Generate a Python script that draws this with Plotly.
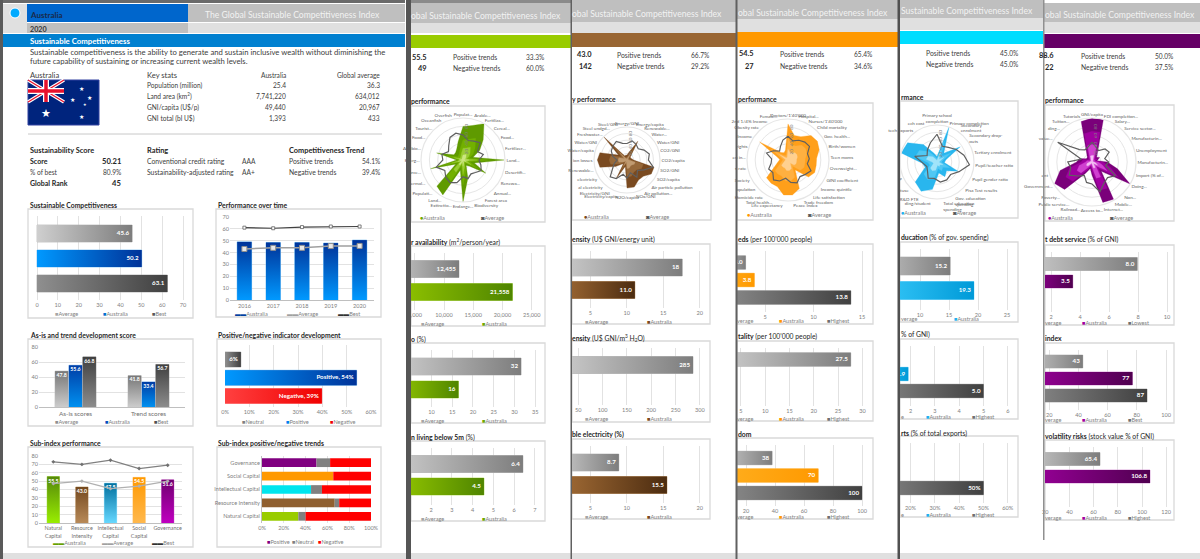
import numpy as np
import plotly.graph_objects as go

W, H = 1200, 559
FONT = "Lato"

# ---------- page 1 data ----------
SC_LABELS = ["45.6", "50.2", "63.1"]
SC_VALUES = [45.6, 50.2, 62.5]
YEARS = ["2016", "2017", "2018", "2019", "2020"]
PERF_AUS = [49, 48.5, 48.5, 48, 50.5]
PERF_AVG = [43, 44, 44, 45.5, 45.6]
PERF_BEST = [61, 60.5, 61.5, 62, 62]
ASIS_CATS = ["As-is scores", "Trend scores"]
ASIS_AVG = [47.8, 41.8]
ASIS_AUS = [55.6, 33.4]
ASIS_BEST = [66.8, 56.7]
POSNEG_VALUES = [6.5, 54.1, 39.8]
POSNEG_LABELS = ["6%", "Positive, 54%", "Negative, 39%"]
SUB_CATS = ["Natural<br>Capital", "Resource<br>Intensity", "Intellectual<br>Capital", "Social<br>Capital", "Governance"]
SUB_AUS = [55.5, 43.0, 47.5, 54.5, 51.6]
SUB_AVG = [47, 50, 41, 44, 50]
SUB_BEST = [73, 70, 75, 65, 69]
TREND_CATS = ["Natural Capital", "Resource Intensity", "Intellectual Capital", "Social Capital", "Governance"]
TREND_POS = [33.3, 66.7, 45.0, 65.4, 50.0]
TREND_NEU = [6.7, 4.1, 10.0, 0.0, 12.5]
TREND_NEG = [60.0, 29.2, 45.0, 34.6, 37.5]

# ---------- small multiple data ----------
WATER_AVAIL = [12560, 21700]
WATER_AVAIL_TXT = ["12,455", "21,558"]
FOREST = [31.6, 16.5]
FOREST_TXT = ["32", "16"]
BELOW5M = [6.43, 4.55]
BELOW5M_TXT = ["6.4", "4.5"]
ENERGY_INT = [17.6, 11.1]
ENERGY_INT_TXT = ["18", "11.0"]
WATER_INT = [286, 20]
WATER_INT_TXT = ["285", ""]
RENEW_EL = [8.9, 15.5]
RENEW_EL_TXT = ["8.7", "15.5"]
BEDS = [3.0, 3.9, 13.85]
BEDS_TXT = ["3.0", "3.8", "13.8"]
MORTALITY = [27.6, 1]
MORTALITY_TXT = ["27.5", ""]
FREEDOM = [38, 69.8, 100]
FREEDOM_TXT = ["38", "70", "100"]
EDU_SPEND = [15.2, 19.3]
EDU_SPEND_TXT = ["15.2", "19.3"]
RND = [0.9, 1.9, 5.0]
RND_TXT = ["", "1.9", "5.0"]
HITECH = [5, 8, 50]
HITECH_TXT = ["", "", "50%"]
DEBT = [7.95, 3.5]
DEBT_TXT = ["8.0", "3.5"]
CORRUPTION = [43, 77, 87]
CORRUPTION_TXT = ["43", "77", "87"]
VOLATILITY = [65.3, 106.6]
VOLATILITY_TXT = ["65.4", "106.8"]

# ---------- radar data (clockwise from the top) ----------
NAT_LABELS = ["Populat...", "Arable...", "Fertiliza...", "Cereal...", "Food...", "Fertilizer...", "Land...",
              "Desertifi...", "Renewa...", "Annual...", "Forest area", "Biodiversity", "Endange...", "Extinctio...",
              "Land...", "Populati...", "thermal...", "ource...", "Energ...", "Antibio...", "Food...", "Tourist...",
              "Oceanfish", "Overfish"]
NAT_AUS = [80, 85, 100, 68, 46, 25, 98, 28, 63, 20, 15, 45, 100, 25, 96, 88, 20, 80, 15, 65, 25, 25, 30, 45]
NAT_AVG = [60, 48, 52, 58, 40, 50, 38, 44, 50, 42, 38, 46, 40, 56, 62, 58, 50, 66, 48, 52, 40, 48, 62, 66]
RES_LABELS = ["Energy/GNI", "Energy/capita", "Renewable...", "Water...", "Water/GNI", "CO2/GNI", "CO2/capita",
              "SO2/GNI", "SO2/capita", "Air particle pollution", "Air pollution...", "NOx/GNI", "N2O/capita",
              "Electricity/capita", "Electricity/GNI", "al electricity", "electricity", "Renewable...", "ion losses",
              "Water/capita", "Water/GNI", "Freshwater...", "Steel undgd...", "Steel/GNI"]
RES_AUS = [15, 25, 66, 15, 12, 15, 20, 85, 85, 70, 70, 85, 85, 20, 66, 15, 40, 85, 90, 85, 30, 100, 15, 15]
RES_AVG = [50, 60, 55, 48, 60, 70, 65, 82, 60, 45, 60, 40, 55, 45, 65, 72, 50, 40, 30, 45, 55, 60, 65, 52]
SOC_LABELS = ["Doctors/1'40'000", "Hospital...", "Nurses/1'40'000", "Child mortality", "Gov. health...",
              "Birth/women", "Teen moms", "Overweight...", "GINI coefficient", "Income quintile", "Life satisfaction",
              "Trade freedom", "Peace Index", "Life expectancy", "Total health...", "Homicide rate", "opulation",
              "Society", "s rate", "en in...", "rights", "Income", "Obesity rate", "2nd 1/4% Income", "Female..."]
SOC_AUS = [88, 62, 65, 82, 85, 80, 70, 70, 72, 65, 30, 75, 86, 86, 70, 70, 68, 35, 25, 20, 30, 82, 25, 20, 25]
SOC_AVG = [58, 48, 55, 60, 62, 50, 52, 48, 62, 55, 50, 60, 55, 45, 55, 60, 48, 52, 42, 40, 55, 42, 30, 38, 50]
INT_LABELS = ["Primary school<br>completion", "Primary completion", "Secondary<br>enrolment", "Secondary drop-<br>outs",
              "Tertiary enrolment", "Pupil/teacher ratio", "Pupil gender ratio", "Pisa Test results",
              "Gov. education<br>spending", "Total education<br>spending", "ding/student", "R&D FTE", "ituse",
              "P", "", "", "", "tech exports", "ech cost"]
INT_AUS = [15, 100, 30, 75, 25, 20, 62, 35, 45, 30, 75, 90, 80, 35, 40, 100, 95, 60, 25]
INT_AVG = [75, 45, 50, 62, 75, 88, 65, 50, 55, 55, 45, 50, 35, 30, 38, 62, 32, 42, 55]
GOV_LABELS = ["GNI/capita", "FDI completion...", "Salary...", "Service sector...", "Manufacturin...", "Unemployment",
              "Manufacturin...", "Import (% of...", "Doing...", "Non...", "Mobile...", "Internet...", "Access to...",
              "Railroad...", "Public service...", "Poverty...", "Government...", "ent", "", "", "value...", "ding...",
              "Tuition...", "Tutorials"]
GOV_AUS = [100, 100, 25, 15, 20, 12, 35, 60, 100, 30, 98, 95, 30, 15, 30, 88, 98, 75, 35, 30, 15, 15, 25, 95]
GOV_AVG = [45, 35, 30, 42, 45, 30, 38, 32, 62, 50, 55, 70, 50, 48, 35, 45, 60, 50, 55, 25, 90, 40, 32, 35]

fig = go.Figure()
shapes, annos, layout_extra = [], [], {}
ax_n = [0]
pol_n = [0]


def px(x):
    return x / W


def py(y):
    return 1 - y / H


def rect(x0, y0, x1, y1, fill, layer="below", line=None, lw=0):
    shapes.append(dict(type="rect", xref="paper", yref="paper", x0=px(x0), x1=px(x1), y0=py(y0), y1=py(y1),
                       fillcolor=fill, line=dict(color=line or fill, width=lw), layer=layer))


def T(x, y, s, size=7.4, color="#404040", anchor="left", bold=False, font=FONT):
    annos.append(dict(xref="paper", yref="paper", x=px(x), y=py(y), text=f"<b>{s}</b>" if bold else s,
                      showarrow=False, xanchor=anchor, yanchor="middle", borderpad=0, borderwidth=0,
                      font=dict(size=size, color=color, family=font)))


def L(x, y, color, s, sym="■", size=5.6):
    T(x, y, f'<span style="color:{color}">{sym}</span>{s}', size=size, color="#7f7f7f")


def new_axes(x0, x1, top, bottom):
    ax_n[0] += 1
    n = ax_n[0]
    sfx = "" if n == 1 else str(n)
    layout_extra["xaxis" + sfx] = dict(domain=[px(x0), px(x1)], anchor="y" + sfx, zeroline=False, showline=False, automargin=False,
                                       fixedrange=True, ticks="", tickfont=dict(size=5.6, color="#808080", family=FONT))
    layout_extra["yaxis" + sfx] = dict(domain=[py(bottom), py(top)], anchor="x" + sfx, zeroline=False, showline=False, automargin=False,
                                       fixedrange=True, ticks="", tickfont=dict(size=5.6, color="#808080", family=FONT))
    return "x" + sfx, "y" + sfx, "xaxis" + sfx, "yaxis" + sfx


def grad(xa, ya, xs, ys, c0, c1, kind, start, stop):
    fig.add_trace(go.Scatter(x=xs, y=ys, xaxis=xa, yaxis=ya, mode="lines", line=dict(width=0), fill="toself",
                             fillgradient=dict(type=kind, start=start, stop=stop, colorscale=[[0, c0], [1, c1]]),
                             hoverinfo="skip", showlegend=False))


def hbar(xa, ya, v, i, h, c0, c1, edge, text):
    fig.add_trace(go.Bar(x=[v], y=[i], orientation="h", width=[h * 2], xaxis=xa, yaxis=ya, marker=dict(color=c1, line=dict(color=edge, width=0.8)),
                         hoverinfo="skip", showlegend=False))
    grad(xa, ya, [0, v, v, 0, 0], [i - h, i - h, i + h, i + h, i - h], c0, c1, "horizontal", 0, v)
    if text:
        fig.add_trace(go.Scatter(x=[v], y=[i], xaxis=xa, yaxis=ya, mode="text", text=[text + "\u00a0\u00a0"], textposition="middle left",
                                 textfont=dict(size=6.2, color="white", family=FONT, weight="bold"), hoverinfo="skip", showlegend=False))


def vbar(xa, ya, i, v, w, c0, c1, edge, text=None, tpos="top"):
    fig.add_trace(go.Bar(x=[i], y=[v], width=[w], xaxis=xa, yaxis=ya, marker=dict(color=c1, line=dict(color=edge, width=0.8)),
                         hoverinfo="skip", showlegend=False))
    h = w / 2
    grad(xa, ya, [i - h, i + h, i + h, i - h, i - h], [0, 0, v, v, 0], c0, c1, "vertical", v, 0)
    if text:
        fig.add_trace(go.Scatter(x=[i], y=[v - 2.5 * (1 if tpos == "top" else 0)], xaxis=xa, yaxis=ya, mode="text", text=[text], textposition="bottom center",
                                 textfont=dict(size=5.2, color="white", family=FONT, weight="bold"), hoverinfo="skip", showlegend=False))


G_AVG = ("#cfcfcf", "#7d7d7d", "#bdbdbd")
G_BEST = ("#8f8f8f", "#404040", "#a8a8a8")
C_GREEN = ("#99cc00", "#4f8500", "#b8dc60")
C_BROWN = ("#a87038", "#4c2c10", "#c49a6c")
C_ORANGE = ("#ffb020", "#ff9900", "#ffc870")
C_CYAN = ("#40d0ff", "#009ad8", "#90e0ff")
C_PURPLE = ("#a000a0", "#500050", "#d090d0")
C_BLUE = ("#0099ff", "#003399", "#80c0f0")


def hchart(clip, top, right, bottom, tick_y, zero, ppu, tickvals, ticktext, centers, thick, vals, txts, styles):
    rect(clip, top, right, bottom, "white", line="#d9d9d9", lw=1.3)
    pt, pb = top + 7, tick_y - 4
    xa, ya, xn, yn = new_axes(clip, right - 5, pt, pb)
    layout_extra[xn].update(range=[(clip - zero) / ppu, (right - 5 - zero) / ppu], tickmode="array", tickvals=tickvals,
                            ticktext=ticktext, showgrid=True, gridcolor="#e2e2e2", gridwidth=1)
    pitch = centers[1] - centers[0]
    layout_extra[yn].update(range=[(pb - centers[0]) / pitch, (pt - centers[0]) / pitch], showticklabels=False, showgrid=False)
    for i, (v, t, st) in enumerate(zip(vals, txts, styles)):
        hbar(xa, ya, v, i, thick / 2 / pitch, st[0], st[1], st[2], t)


# ---------- page backgrounds ----------
rect(0, 0, W, H, "white")
pages = [
    (411, 571, 3, 23, 33, 35, 48, "#99cc00", "obal Sustainable Competitiveness Index", 411, 15.5),
    (571, 737, 0, 22, 33, 33, 47, "#996633", "obal Sustainable Competitiveness Index", 572, 14),
    (737, 899, 0, 19, 32, 32, 47, "#ff9900", "obal Sustainable Competitiveness Index", 738, 13),
    (899, 1044, 0, 18, 30, 31, 44, "#00ddff", "Sustainable Competitiveness Index", 901, 11),
    (1044, 1200, 3, 22, 33, 34, 48, "#660066", "obal Sustainable Competitiveness Index", 1045, 15),
]
for x0, x1, a, b, c, d, e, col, s, tx, ty in pages:
    rect(x0, a, x1, b, "#bfbfbf")
    rect(x0, b, x1, c, "#e0e0e0")
    rect(x0, d, x1, e, col)
    T(tx, ty, s, size=8.6, color="#f2f2f2")
rect(0, 0, 405, 3, "#6a6a6a")
rect(411, 0, 571, 3, "#8a8a8a")
rect(15 + 12, 4, 188, 22, "#0066cc")
rect(188, 4, 405, 22, "#bfbfbf")
rect(3, 4, 27, 23, "#e0e0e0")
rect(3, 23, 405, 33, "#e0e0e0")
rect(27, 23, 188, 33, "#bfbfbf")
rect(3, 34, 405, 47, "#0080d0")
rect(3, 553, W, H, "#e0e0e0")
T(380, 15, "The Global Sustainable Competitiveness Index", size=8.6, color="#f2f2f2", anchor="right")
shapes.append(dict(type="circle", xref="paper", yref="paper", x0=px(10), x1=px(20), y0=py(18), y1=py(8),
                   fillcolor="#00aaff", line=dict(color="white", width=1), layer="below"))
shapes.append(dict(type="line", xref="paper", yref="paper", x0=px(28), x1=px(382), y0=py(134), y1=py(134),
                   line=dict(color="#c8c8c8", width=1), layer="below"))

# ---------- flag ----------
rect(28, 80, 99, 125, "#00247d", line="#3040a0", lw=1)
for (a, b, col, wd) in [((28, 80), (64, 102), "white", 3.5), ((28, 102), (64, 80), "white", 3.5),
                        ((28, 80), (64, 102), "#e8112d", 1.3), ((28, 102), (64, 80), "#e8112d", 1.3),
                        ((46, 80), (46, 102), "white", 6), ((28, 91), (64, 91), "white", 6),
                        ((46, 80), (46, 102), "#e8112d", 3.5), ((28, 91), (64, 91), "#e8112d", 3.5)]:
    shapes.append(dict(type="line", xref="paper", yref="paper", x0=px(a[0]), x1=px(b[0]), y0=py(a[1]), y1=py(b[1]),
                       line=dict(color=col, width=wd), layer="below"))
for x, y, s in [(81.5, 88.5, 6), (89, 97, 6), (72.5, 99.5, 6), (85, 104, 4), (81.5, 116, 6), (46, 113, 11)]:
    T(x, y, "★", size=s, color="white", anchor="center", font="DejaVu Sans")

# ---------- page 1 text ----------
T(30, 15, "Australia", size=8, color="#1a2a4a", bold=True)
T(30, 29, "2020", size=7.2, color="#333333", bold=True)
T(30, 41.5, "Sustainable Competitiveness", size=7.8, color="white", bold=True)
T(30, 52, "Sustainable competitiveness is the ability to generate and sustain inclusive wealth without diminishing the", size=7.7)
T(30, 61, "future capability of sustaining or increasing current wealth levels.", size=7.7)
T(30, 74.5, "Australia", size=7.6)
T(147, 75, "Key stats", size=7.6)
T(286, 75, "Australia", size=6.6, anchor="right")
T(380, 75, "Global average", size=6.6, anchor="right")
STAT_NAMES = ["Population (million)", "Land area (km<sup>2</sup>)", "GNI/capita (U$/p)", "GNI total (bl U$)"]
STAT_AUS = ["25.4", "7,741,220", "49,440", "1,393"]
STAT_AVG = ["36.3", "634,012", "20,967", "433"]
for y, n, a, b in zip([85, 96, 107, 118], STAT_NAMES, STAT_AUS, STAT_AVG):
    T(147, y, n, size=6.6)
    T(286, y, a, size=6.6, anchor="right")
    T(380, y, b, size=6.6, anchor="right")
T(30, 150, "Sustainability Score", size=7.4, color="#262626", bold=True)
T(30, 161, "Score", size=7, color="#262626", bold=True)
T(121, 161, "50.21", size=7.6, color="#262626", anchor="right", bold=True)
T(30, 172, "% of best", size=6.6)
T(121, 172, "80.9%", size=6.6, anchor="right")
T(30, 183, "Global Rank", size=7, color="#262626", bold=True)
T(121, 183, "45", size=7.6, color="#262626", anchor="right", bold=True)
T(147, 150, "Rating", size=7.4, color="#262626", bold=True)
T(147, 161, "Conventional credit rating", size=6.8)
T(242, 161, "AAA", size=6.6)
T(147, 172, "Sustainability-adjusted rating", size=6.8)
T(242, 172, "AA+", size=6.6)
T(289, 150, "Competitiveness Trend", size=7.4, color="#262626", bold=True)
T(289, 161, "Positive trends", size=6.8)
T(380, 161, "54.1%", size=6.6, anchor="right")
T(289, 172, "Negative trends", size=6.8)
T(380, 172, "39.4%", size=6.6, anchor="right")
for x, y, s in [(30, 205, "Sustainable Competitiveness"), (218, 205, "Performance over time"),
                (30, 335, "As-is and trend development score"), (218, 335, "Positive/negative indicator development"),
                (30, 443, "Sub-index performance"), (218, 443, "Sub-index positive/negative trends")]:
    T(x, y, s, size=6.8, color="#262626", bold=True)

# ---------- chart A ----------
hchart(28, 209, 193, 318, 304, 37, 146 / 70, list(range(0, 71, 10)), [str(v) for v in range(0, 71, 10)],
       [233.5, 258.5, 284], 17, SC_VALUES, SC_LABELS, [G_AVG, C_BLUE, G_BEST])
L(55, 313, "#a6a6a6", "Average"); L(103, 313, "#0070d0", "Australia"); L(152, 313, "#595959", "Best")

# ---------- chart B ----------
rect(216, 209, 381, 317, "white", line="#d9d9d9", lw=1.3)
xa, ya, xn, yn = new_axes(230, 374, 217, 300)
layout_extra[xn].update(range=[-0.5, 4.5], tickmode="array", tickvals=list(range(5)), ticktext=YEARS, showline=True, linecolor="#bfbfbf", linewidth=1)
layout_extra[yn].update(range=[0, 70], tickmode="array", tickvals=list(range(0, 71, 10)), showgrid=True, gridcolor="#e2e2e2")
for i, v in enumerate(PERF_AUS):
    vbar(xa, ya, i, v, 0.5, C_BLUE[1], C_BLUE[0], C_BLUE[2])
fig.add_trace(go.Scatter(x=list(range(5)), y=PERF_AVG, xaxis=xa, yaxis=ya, mode="lines+markers", line=dict(color="#a0a0a0", width=1.5),
                         marker=dict(symbol="square", size=5, color="#e8e8e8", line=dict(color="#909090", width=1)), showlegend=False, hoverinfo="skip"))
fig.add_trace(go.Scatter(x=list(range(5)), y=PERF_BEST, xaxis=xa, yaxis=ya, mode="lines+markers", line=dict(color="#404040", width=1.2),
                         marker=dict(symbol="square", size=3, color="white", line=dict(color="#606060", width=0.8)), showlegend=False, hoverinfo="skip"))
L(235, 313, "#0040a0", "Australia", "▬▬"); L(287, 313, "#a0a0a0", "Average", "▬▬"); L(338, 313, "#303030", "Best", "▬▬")

# ---------- chart C ----------
rect(28, 339, 193, 426, "white", line="#d9d9d9", lw=1.3)
xa, ya, xn, yn = new_axes(39, 185, 347, 407)
layout_extra[xn].update(range=[-0.5, 1.5], tickmode="array", tickvals=[0, 1], ticktext=ASIS_CATS, showline=True, linecolor="#bfbfbf",
                        tickfont=dict(size=6.4, color="#707070", family=FONT))
layout_extra[yn].update(range=[0, 80], tickmode="array", tickvals=[0, 20, 40, 60, 80], showgrid=True, gridcolor="#e2e2e2")
for i in range(2):
    vbar(xa, ya, i - 0.19, ASIS_AVG[i], 0.18, "#777777", "#cccccc", "#c0c0c0", f"{ASIS_AVG[i]:.1f}")
    vbar(xa, ya, i, ASIS_AUS[i], 0.18, "#003da5", "#0090f0", "#90b8e8", f"{ASIS_AUS[i]:.1f}")
    vbar(xa, ya, i + 0.19, ASIS_BEST[i], 0.18, "#404040", "#8c8c8c", "#a0a0a0", f"{ASIS_BEST[i]:.1f}")
L(55, 422, "#909090", "Average"); L(105, 422, "#0050c0", "Australia"); L(154, 422, "#505050", "Best")

# ---------- chart D ----------
rect(217, 339, 381, 426, "white", line="#d9d9d9", lw=1.3)
C_RED = ("#ff4040", "#f00000", "#ffa0a0")
xa, ya, xn, yn = new_axes(225, 371, 345, 407)
layout_extra[xn].update(range=[0, 60], tickmode="array", tickvals=list(range(0, 61, 10)), ticktext=[f"{v}%" for v in range(0, 61, 10)],
                        showgrid=True, gridcolor="#e2e2e2")
layout_extra[yn].update(range=[(407 - 359.5) / 18.25, (345 - 359.5) / 18.25], showticklabels=False, showgrid=False)
for i, st in enumerate([G_BEST, C_BLUE, C_RED]):
    hbar(xa, ya, POSNEG_VALUES[i], i, 7.5 / 18.25, st[0], st[1], st[2], POSNEG_LABELS[i])
L(242, 422, "#808080", "Neutral"); L(286, 422, "#0080f0", "Positive"); L(330, 422, "#f00000", "Negative")

# ---------- chart E ----------
rect(28, 447, 193, 547, "white", line="#d9d9d9", lw=1.3)
xa, ya, xn, yn = new_axes(39, 182, 456, 523)
layout_extra[xn].update(range=[-0.5, 4.5], tickmode="array", tickvals=list(range(5)), ticktext=SUB_CATS, showline=True, linecolor="#bfbfbf",
                        tickfont=dict(size=5.4, color="#707070", family=FONT))
layout_extra[yn].update(range=[0, 80], tickmode="array", tickvals=list(range(0, 81, 10)), showgrid=True, gridcolor="#e2e2e2")
SUB_STYLES = [("#55880a", "#99ee00", "#b0dd60"), ("#74491f", "#b88a58", "#c8a880"), ("#006f9e", "#66d8ff", "#a0e4ff"),
              ("#ff9900", "#ffb84d", "#ffd090"), ("#700070", "#c000c0", "#d890d8")]
for i, v in enumerate(SUB_AUS):
    st = SUB_STYLES[i]
    vbar(xa, ya, i, v, 0.43, st[0], st[1], st[2], f"{v:.1f}")
fig.add_trace(go.Scatter(x=list(range(5)), y=SUB_AVG, xaxis=xa, yaxis=ya, mode="lines+markers", line=dict(color="#b0b0b0", width=1.2),
                         marker=dict(symbol="diamond", size=3, color="#b0b0b0"), showlegend=False, hoverinfo="skip"))
fig.add_trace(go.Scatter(x=list(range(5)), y=SUB_BEST, xaxis=xa, yaxis=ya, mode="lines+markers", line=dict(color="#808080", width=1.3),
                         marker=dict(symbol="diamond", size=3, color="#707070"), showlegend=False, hoverinfo="skip"))
L(53, 542, "#66a000", "Australia", "▬▬"); L(102, 542, "#a0a0a0", "Average", "▬▬"); L(152, 542, "#303030", "Best", "▬▬")

# ---------- chart F ----------
rect(217, 447, 381, 547, "white", line="#d9d9d9", lw=1.3)
xa, ya, xn, yn = new_axes(262, 371, 456, 523)
layout_extra[xn].update(range=[0, 100], tickmode="array", tickvals=list(range(0, 101, 20)), ticktext=[f"{v}%" for v in range(0, 101, 20)],
                        showgrid=True, gridcolor="#e2e2e2")
layout_extra[yn].update(range=[-0.5, 4.5], tickmode="array", tickvals=list(range(5)), ticktext=TREND_CATS, showgrid=False, showline=True, linecolor="#bfbfbf")
POS_COLORS = ["#99cc00", "#8f5f30", "#00e5ee", "#ff9900", "#800080"]
idx = list(range(5))
fig.add_trace(go.Bar(x=TREND_POS, y=idx, orientation="h", width=0.65, xaxis=xa, yaxis=ya, marker=dict(color=POS_COLORS), showlegend=False, hoverinfo="skip"))
fig.add_trace(go.Bar(x=TREND_NEU, y=idx, base=TREND_POS, orientation="h", width=0.65, xaxis=xa, yaxis=ya, marker=dict(color="#808080"), showlegend=False, hoverinfo="skip"))
fig.add_trace(go.Bar(x=TREND_NEG, y=idx, base=list(np.add(TREND_POS, TREND_NEU)), orientation="h", width=0.65, xaxis=xa, yaxis=ya, marker=dict(color="#ff0000"), showlegend=False, hoverinfo="skip"))
L(267, 541, "#800080", "Positive"); L(292, 541, "#808080", "Neutral"); L(318, 541, "#ff0000", "Negative")


# ---------- trend rows, titles ----------
def trend(score, rank, sx, px_label, pval, nval, pr, y1, y2):
    if score:
        T(sx, y1, score, size=7.4, color="#262626", anchor="right", bold=True)
        T(sx, y2, rank, size=7.4, color="#262626", anchor="right", bold=True)
    T(px_label, y1, "Positive trends", size=6.8)
    T(px_label, y2, "Negative trends", size=6.8)
    T(pr, y1, pval, size=6.6, anchor="right")
    T(pr, y2, nval, size=6.6, anchor="right")


trend("55.5", "49", 427, 453, "33.3%", "60.0%", 544, 57, 68)
trend("43.0", "142", 592, 617, "66.7%", "29.2%", 709, 55, 66)
trend("54.5", "27", 754, 780, "65.4%", "34.6%", 872, 54, 66)
trend("", "", 0, 926, "45.0%", "45.0%", 1018, 53, 64)
trend("88.6", "22", 1054, 1081, "50.0%", "37.5%", 1173, 56, 67)


def title(x, y, bold_part, rest=""):
    T(x, y, (f"<b>{bold_part}</b>" if bold_part else "") + rest, size=6.8, color="#262626")


title(411, 101, "performance")
title(411, 242, "r availability", " (m<sup>2</sup>/person/year)")
title(411, 339, "o", " (%)")
title(411, 437, "n living below 5m", " (%)")
title(572, 99, "y performance")
title(572, 240, "ensity", " (U$ GNI/energy unit)")
title(572, 338, "ensity", " (U$ GNI/m<sup>3</sup> H<sub>2</sub>O)")
title(572, 434, "ble electricity (%)")
title(738, 99, "performance")
title(738, 239, "eds", " (per 100'000 people)")
title(738, 336, "tality", " (per 100'000 people)")
title(738, 434, "dom")
title(901, 97, "rmance")
title(901, 237, "ducation", " (% of gov. spending)")
title(901, 334, "", "% of GNI)")
title(901, 433, "rts", " (% of total exports)")
title(1045, 100, "performance")
title(1045, 240, "t debt service", " (% of GNI)")
title(1045, 338, "index")
title(1045, 436, "volatility risks", " (stock value % of GNI)")

# ---------- small multiples: page 2 ----------
hchart(411, 246, 545, 326, 314, 385.5, 5.85 / 1000, [5000, 10000, 15000, 20000, 25000], ["5,000", "10,000", "15,000", "20,000", "25,000"],
       [269, 292], 17, WATER_AVAIL, WATER_AVAIL_TXT, [G_AVG, C_GREEN])
L(421, 323, "#a6a6a6", "Average"); L(482, 323, "#70a800", "Australia")
hchart(411, 343, 545, 423, 411, 390, 4.147, [5, 10, 15, 20, 25, 30, 35], ["5", "10", "15", "20", "25", "30", "35"],
       [366.5, 389.5], 17, FOREST, FOREST_TXT, [G_AVG, C_GREEN])
L(421, 420, "#a6a6a6", "Average"); L(482, 420, "#70a800", "Australia")
hchart(411, 441, 545, 521, 509, 389.5, 20.75, [1, 2, 3, 4, 5, 6, 7], ["1", "2", "3", "4", "5", "6", "7"],
       [464, 486.5], 17, BELOW5M, BELOW5M_TXT, [G_AVG, C_GREEN])
L(421, 518, "#a6a6a6", "Average"); L(482, 518, "#70a800", "Australia")

# page 3
hchart(572, 244, 710, 324, 312, 553.9, 7.29, [5, 10, 15, 20], ["5", "10", "15", "20"],
       [267.5, 290], 17, ENERGY_INT, ENERGY_INT_TXT, [G_AVG, C_BROWN])
L(585, 321, "#a6a6a6", "Average"); L(647, 321, "#7a4a20", "Australia")
hchart(572, 341, 710, 422, 409, 554, 0.486, [50, 100, 150, 200, 250, 300], ["50", "100", "150", "200", "250", "300"],
       [365, 387.5], 17, WATER_INT, WATER_INT_TXT, [G_AVG, C_BROWN])
L(585, 418, "#a6a6a6", "Average"); L(647, 418, "#7a4a20", "Australia")
hchart(572, 439, 710, 519, 507, 553.9, 7.29, [5, 10, 15, 20], ["5", "10", "15", "20"],
       [462.5, 485], 17, RENEW_EL, RENEW_EL_TXT, [G_AVG, C_BROWN])
L(585, 516, "#a6a6a6", "Average"); L(647, 516, "#7a4a20", "Australia")

# page 4
hchart(737, 244, 873, 324, 316, 716.5, 9.7, [5, 10, 15], ["5", "10", "15"],
       [262.5, 280, 297.5], 13.5, BEDS, BEDS_TXT, [G_AVG, C_ORANGE, G_BEST])
T(737, 320, "verage", size=5.6, color="#7f7f7f"); L(779, 320, "#ff9900", "Australia"); L(827, 320, "#707070", "Highest")
hchart(737, 341, 873, 421, 410, 716.6, 4.86, [5, 10, 15, 20, 25, 30], ["5", "10", "15", "20", "25", "30"],
       [359.5, 377, 394.5], 13.5, MORTALITY + [0], MORTALITY_TXT + [""], [G_AVG, C_ORANGE, G_BEST])
T(737, 418, "verage", size=5.6, color="#7f7f7f"); L(779, 418, "#ff9900", "Australia"); L(827, 418, "#707070", "Highest")
hchart(737, 438, 873, 519, 510, 717, 1.45, [20, 40, 60, 80, 100], ["20", "40", "60", "80", "100"],
       [458, 475.5, 492.5], 13.5, FREEDOM, FREEDOM_TXT, [G_AVG, C_ORANGE, G_BEST])
T(737, 516, "verage", size=5.6, color="#7f7f7f"); L(779, 516, "#ff9900", "Australia"); L(827, 516, "#707070", "Highest")

# page 5
hchart(900, 242, 1018, 322, 314, 862, 5.8, [10, 15, 20, 25], ["10", "15", "20", "25"],
       [266, 290.5], 18, EDU_SPEND, EDU_SPEND_TXT, [G_AVG, C_CYAN])
T(901, 318, "verage", size=5.6, color="#7f7f7f"); L(954, 318, "#20b0f0", "Australia")
hchart(900, 339, 1018, 419, 410, 862, 24.3, [2, 3, 4, 5, 6], ["2", "3", "4", "5", "6"],
       [357, 374, 390.5], 13.5, RND, RND_TXT, [G_AVG, C_CYAN, G_BEST])
T(901, 416, "e", size=5.6, color="#7f7f7f"); L(926, 416, "#20b0f0", "Australia"); L(972, 416, "#707070", "Highest")
hchart(900, 436, 1018, 517, 507, 862, 2.43, [20, 30, 40, 50, 60], ["20%", "30%", "40%", "50%", "60%"],
       [454, 471, 488.5], 13.5, HITECH, HITECH_TXT, [G_AVG, C_CYAN, G_BEST])
T(901, 514, "e", size=5.6, color="#7f7f7f"); L(926, 514, "#20b0f0", "Australia"); L(972, 514, "#707070", "Highest")

# page 6
hchart(1045, 245, 1174, 325, 316, 1022, 14.5, [2, 4, 6, 8, 10], ["2", "4", "6", "8", "10"],
       [264, 281.5], 13, DEBT, DEBT_TXT, [G_AVG, C_PURPLE])
T(1045, 322, "verage", size=5.6, color="#7f7f7f"); L(1082, 322, "#a000a0", "Australia"); L(1128, 322, "#707070", "Lowest")
hchart(1045, 343, 1174, 423, 414, 1020, 1.46, [20, 40, 60, 80, 100], ["20", "40", "60", "80", "100"],
       [361.5, 378.5, 396], 13, CORRUPTION, CORRUPTION_TXT, [G_AVG, C_PURPLE, G_BEST])
T(1045, 419, "verage", size=5.6, color="#7f7f7f"); L(1082, 419, "#a000a0", "Australia"); L(1128, 419, "#707070", "Best")
hchart(1045, 440, 1174, 520, 511, 1021, 1.21, [20, 40, 60, 80, 100, 120], ["20", "40", "60", "80", "100", "120"],
       [459, 476.5], 13, VOLATILITY, VOLATILITY_TXT, [G_AVG, C_PURPLE])
T(1045, 517, "verage", size=5.6, color="#7f7f7f"); L(1082, 517, "#a000a0", "Australia"); L(1128, 517, "#707070", "Highest")


# ---------- radars ----------
def radar(clip, top, right, bottom, cx, cy, r, labels, aus, avg, tints, legend_x, legend_y, aus_col, fsize=4.6):
    rect(clip, top, right, bottom, "white", line="#d9d9d9", lw=1.3)
    pol_n[0] += 1
    name = "polar" if pol_n[0] == 1 else f"polar{pol_n[0]}"
    n = len(labels)
    th = [i * 360 / n for i in range(n)]
    shown = [i for i in range(n) if labels[i]]
    layout_extra[name] = dict(
        domain=dict(x=[px(cx - r), px(cx + r)], y=[py(cy + r), py(cy - r)]),
        bgcolor="rgba(0,0,0,0)",
        radialaxis=dict(range=[0, 100], tickmode="array", tickvals=[20, 40, 60, 80], angle=90, tickangle=0, showline=False,
                        ticks="", tickfont=dict(size=4.6, color="#808080", family=FONT), gridcolor="#e6e6e6", gridwidth=1.2),
        angularaxis=dict(direction="clockwise", rotation=90, tickmode="array", tickvals=[th[i] for i in shown],
                         ticktext=[labels[i] for i in shown], ticks="",
                         tickfont=dict(size=fsize, color="#606060", family=FONT), showgrid=False, showline=True,
                         linecolor="#e6e6e6", linewidth=1.2),
    )
    thc = th + [th[0]]
    for f, col in tints:
        rr = [v * f for v in aus]
        fig.add_trace(go.Scatterpolar(r=rr + [rr[0]], theta=thc, subplot=name, mode="lines", fill="toself", fillcolor=col,
                                      line=dict(color=col, width=0.3), hoverinfo="skip", showlegend=False))
    fig.add_trace(go.Scatterpolar(r=avg + [avg[0]], theta=thc, subplot=name, mode="lines", line=dict(color="#606060", width=1.2),
                                  hoverinfo="skip", showlegend=False))
    L(legend_x[0], legend_y, aus_col, "Australia", "●")
    L(legend_x[1], legend_y, "#505050", "Average", "◙")


radar(411, 106, 545, 222, 463, 160, 42, NAT_LABELS, NAT_AUS, NAT_AVG,
      [(1, "#5f9a00"), (0.6, "#72b000"), (0.35, "#99cc33"), (0.15, "#cce680")], (420, 481), 217, "#70a800")
radar(572, 104, 711, 220, 627, 160, 33, RES_LABELS, RES_AUS, RES_AVG,
      [(1, "#7a4a20"), (0.6, "#96683a"), (0.3, "#c09a70")], (584, 646), 216, "#7a4a20")
radar(737, 103, 873, 220, 788, 160, 41, SOC_LABELS, SOC_AUS, SOC_AVG,
      [(1, "#ff9f1a"), (0.6, "#ffb040"), (0.3, "#ffd090")], (747, 808), 215, "#ff9900")
radar(900, 101, 1018, 218, 937, 162, 37, INT_LABELS, INT_AUS, INT_AVG,
      [(1, "#29b6ee"), (0.6, "#50c8f4"), (0.3, "#a0e4fa")], (901, 953), 213, "#20b0f0")
radar(1045, 105, 1174, 221, 1092, 162, 44, GOV_LABELS, GOV_AUS, GOV_AVG,
      [(1, "#7a007a"), (0.7, "#a000a0"), (0.4, "#d040d0"), (0.15, "#f4c0f4")], (1048, 1110), 217, "#a000a0")

# ---------- page separators (on top) ----------
rect(0, 0, 3, H, "#5a5a5a", layer="above")
rect(406, 0, 411, H, "#555555", layer="above")
rect(570.5, 0, 572, H, "#606060", layer="above")
rect(735.5, 0, 737.5, H, "#606060", layer="above")
rect(897.5, 0, 900, H, "#505050", layer="above")
rect(1043, 0, 1044.5, 540, "#909090", layer="above")

fig.update_layout(template="none", width=W, height=H, margin=dict(l=0, r=0, t=0, b=0, pad=0, autoexpand=False),
                  paper_bgcolor="white", plot_bgcolor="rgba(0,0,0,0)",
                  barmode="overlay", showlegend=False, font=dict(family=FONT, color="#404040"),
                  shapes=shapes, annotations=annos, **layout_extra)
fig.write_html("out.html", config=dict(displayModeBar=False),
               post_script="document.body.style.margin='0';document.documentElement.style.overflow='hidden';")
